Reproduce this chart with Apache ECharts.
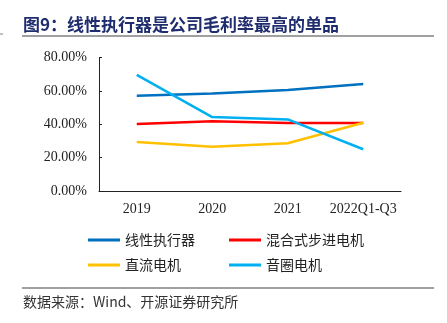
<!DOCTYPE html>
<html><head><meta charset="utf-8">
<script src="https://cdn.jsdelivr.net/npm/echarts@6/dist/echarts.min.js"></script>
<style>html,body{margin:0;padding:0;background:#fff}#c{width:447px;height:323px}</style>
</head><body><div id="c"></div>
<script>
const categories = ['2019', '2020', '2021', '2022Q1-Q3'];
const seriesNames = ['线性执行器', '混合式步进电机', '直流电机', '音圈电机'];
const linearActuator = [57.1, 58.4, 60.5, 64.1];
const hybridStepper = [40.2, 41.8, 40.7, 40.7];
const dcMotor = [29.3, 26.5, 28.6, 40.9];
const voiceCoil = [69.6, 44.3, 42.9, 25.0];
const yTicks = [0, 20, 40, 60, 80];
const titleText = '图9：线性执行器是公司毛利率最高的单品';
const sourceText = '数据来源：Wind、开源证券研究所';

const colors = ['#0070C0', '#FF0000', '#FFC000', '#00B0F0'];
const chart = echarts.init(document.getElementById('c'));
const serif = '"Liberation Serif", "Times New Roman", serif';
const cjk = '"Noto Sans CJK SC", sans-serif';
const data = [linearActuator, hybridStepper, dcMotor, voiceCoil];
const legendPos = [[88, 233], [229, 233], [88, 258], [229, 258]];
chart.setOption({
  animation: false,
  graphic: [
    {type: 'text', x: 23, y: 25, style: {text: titleText, font: 'bold 17px ' + cjk, fill: '#1F2D6E', verticalAlign: 'middle'}},
    {type: 'line', shape: {x1: 22, y1: 36, x2: 434, y2: 36}, style: {stroke: '#808080', lineWidth: 1.5}},
    {type: 'line', shape: {x1: 0, y1: 34, x2: 3, y2: 34}, style: {stroke: '#808080', lineWidth: 1}},
    {type: 'line', shape: {x1: 22, y1: 288, x2: 434, y2: 288}, style: {stroke: '#808080', lineWidth: 1.5}},
    {type: 'text', x: 23, y: 302, style: {text: sourceText, font: '14px ' + cjk, fill: '#333', verticalAlign: 'middle'}}
  ],
  legend: seriesNames.map((n, i) => ({
    data: [n], left: legendPos[i][0], top: legendPos[i][1],
    itemWidth: 32, itemHeight: 3, icon: 'rect',
    padding: 0,
    textStyle: {fontFamily: cjk, fontSize: 14, color: '#222'}
  })),
  grid: {left: 99, right: 46, top: 57.5, bottom: 132},
  xAxis: {
    type: 'category', data: categories, boundaryGap: true,
    axisLine: {lineStyle: {color: '#222', width: 1}},
    axisTick: {inside: true, length: 4, lineStyle: {color: '#222'}},
    axisLabel: {fontFamily: serif, fontSize: 14, color: '#222', margin: 11, interval: 0}
  },
  yAxis: {
    type: 'value', min: 0, max: 80, interval: 20,
    axisLine: {show: true, lineStyle: {color: '#222', width: 1}},
    axisTick: {show: true, inside: true, length: 3, lineStyle: {color: '#222'}},
    splitLine: {show: false},
    axisLabel: {fontFamily: serif, fontSize: 14, color: '#222', margin: 12,
      formatter: v => yTicks.includes(v) ? v.toFixed(2) + '%' : ''}
  },
  series: seriesNames.map((n, i) => ({
    name: n, type: 'line', data: data[i], symbol: 'none',
    lineStyle: {width: 2.5, color: colors[i]}, itemStyle: {color: colors[i]}
  }))
});
</script></body></html>
